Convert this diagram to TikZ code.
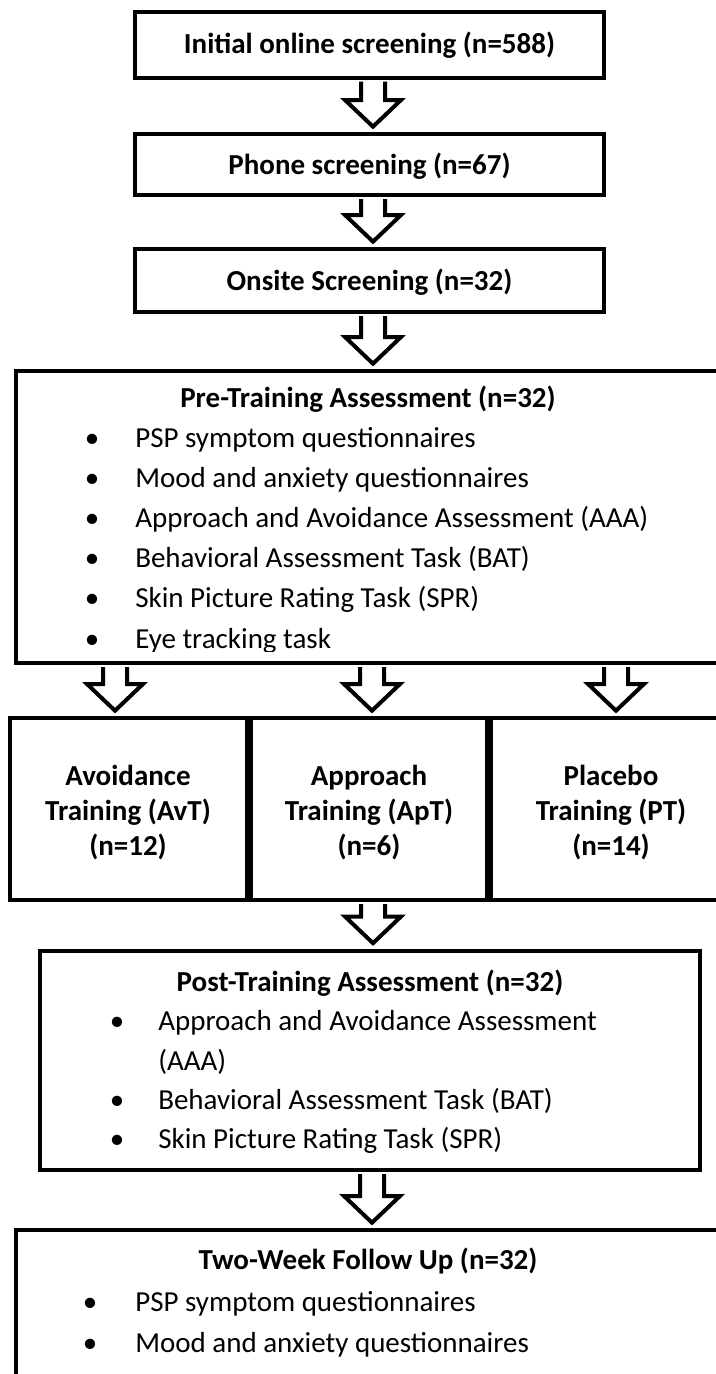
\documentclass[tikz,border=0pt]{standalone}
\usepackage{fontspec}
\setmainfont{Carlito}
\usetikzlibrary{calc,fit}
\newcommand\barr[3]{%
  \draw[barrow] let \p1=(#1), \p2=(#2.south), \p3=(#3.north) in
    (\x1-9pt,\y2-1.5pt) -- (\x1-9pt,\y3+24pt) -- (\x1-21pt,\y3+24pt) --
    (\x1,\y3+4pt) -- (\x1+21pt,\y3+24pt) -- (\x1+9pt,\y3+24pt) -- (\x1+9pt,\y2-1.5pt);
}
\begin{document}
\begin{tikzpicture}[x=0.75pt,y=-0.75pt,
  box/.style={draw,line width=3pt,rectangle,inner sep=0pt},
  barrow/.style={draw,line width=3pt,fill=white,line join=miter},
  ttl/.style={font=\fontsize{21.75}{30}\selectfont\bfseries,anchor=base,inner sep=0pt},
  itm/.style={font=\fontsize{21.75}{30}\selectfont,anchor=base west,inner sep=0pt},
  bul/.style={font=\fontsize{21.75}{30}\selectfont,anchor=base,inner sep=0pt},
]
\useasboundingbox (0,0) rectangle (716,1374);
\clip (0,0) rectangle (716,1374);

% boxes
\node[box, fit={(134.5,12) (603.5,77.5)}] (b1) {};
\node[box, fit={(134.5,134) (603.5,195)}] (b2) {};
\node[box, fit={(134.5,249) (603.5,312)}] (b3) {};
\node[box, fit={(16,371) (733,663)}] (pre) {};
\node[box, fit={(10,718) (246.5,900)}] (tA) {};
\node[box, fit={(250.5,718) (487,900)}] (tB) {};
\node[box, fit={(491,718) (735,900)}] (tC) {};
\node[box, fit={(40,950.5) (700,1170)}] (post) {};
\node[box, fit={(16,1230) (733,1400)}] (fu) {};

% arrow x positions
\coordinate (xc) at (373,0);
\coordinate (xL) at (115,0);
\coordinate (xM) at (372,0);
\coordinate (xR) at (616,0);

\barr{xc}{b1}{b2}
\barr{xc}{b2}{b3}
\barr{xc}{b3}{pre}
\barr{xL}{pre}{tA}
\barr{xM}{pre}{tB}
\barr{xR}{pre}{tC}
\barr{xc}{tB}{post}
\barr{xM}{post}{fu}

% titles
\node[ttl] (t1) at (369.5,53) {Initial online screening (n=588)};
\node[ttl] (t2) at (369.5,174) {Phone screening (n=67)};
\node[ttl] (t3) at (369.5,290) {Onsite Screening (n=32)};

% pre-training
\node[ttl] (pret) at (368,407) {Pre-Training Assessment (n=32)};
\begin{scope}
\clip (16,371) rectangle (733,651);
\node[bul] (pb1) at (92,447) {•};
\node[itm] (pi1) at (135,447) {PSP symptom questionnaires};
\node[bul] (pb2) at (92,487) {•};
\node[itm] (pi2) at (135,487) {Mood and anxiety questionnaires};
\node[bul] (pb3) at (92,527) {•};
\node[itm] (pi3) at (135,527) {Approach and Avoidance Assessment (AAA)};
\node[bul] (pb4) at (92,567) {•};
\node[itm] (pi4) at (135,567) {Behavioral Assessment Task (BAT)};
\node[bul] (pb5) at (92,607) {•};
\node[itm] (pi5) at (135,607) {Skin Picture Rating Task (SPR)};
\node[bul] (pb6) at (92,648) {•};
\node[itm] (pi6) at (135,648) {Eye tracking task};
\end{scope}

% training
\node[ttl] (ta1) at (128,785) {Avoidance};
\node[ttl] (ta2) at (128,820) {Training (AvT)};
\node[ttl] (ta3) at (128,855) {(n=12)};
\node[ttl] (tb1) at (369,785) {Approach};
\node[ttl] (tb2) at (369,820) {Training (ApT)};
\node[ttl] (tb3) at (369,855) {(n=6)};
\node[ttl] (tc1) at (611,785) {Placebo};
\node[ttl] (tc2) at (611,820) {Training (PT)};
\node[ttl] (tc3) at (611,855) {(n=14)};

% post-training
\node[ttl] (postt) at (370,991) {Post-Training Assessment (n=32)};
\node[bul] (qb1) at (117,1030) {•};
\node[itm] (qi1) at (158,1030) {Approach and Avoidance Assessment};
\node[itm] (qi1b) at (158,1070) {(AAA)};
\node[bul] (qb2) at (117,1109) {•};
\node[itm] (qi2) at (158,1109) {Behavioral Assessment Task (BAT)};
\node[bul] (qb3) at (117,1148) {•};
\node[itm] (qi3) at (158,1148) {Skin Picture Rating Task (SPR)};

% follow up
\node[ttl] (fut) at (368,1269) {Two-Week Follow Up (n=32)};
\node[bul] (fb1) at (90,1311) {•};
\node[itm] (fi1) at (135,1311) {PSP symptom questionnaires};
\node[bul] (fb2) at (90,1352) {•};
\node[itm] (fi2) at (135,1352) {Mood and anxiety questionnaires};
\end{tikzpicture}
\end{document}
